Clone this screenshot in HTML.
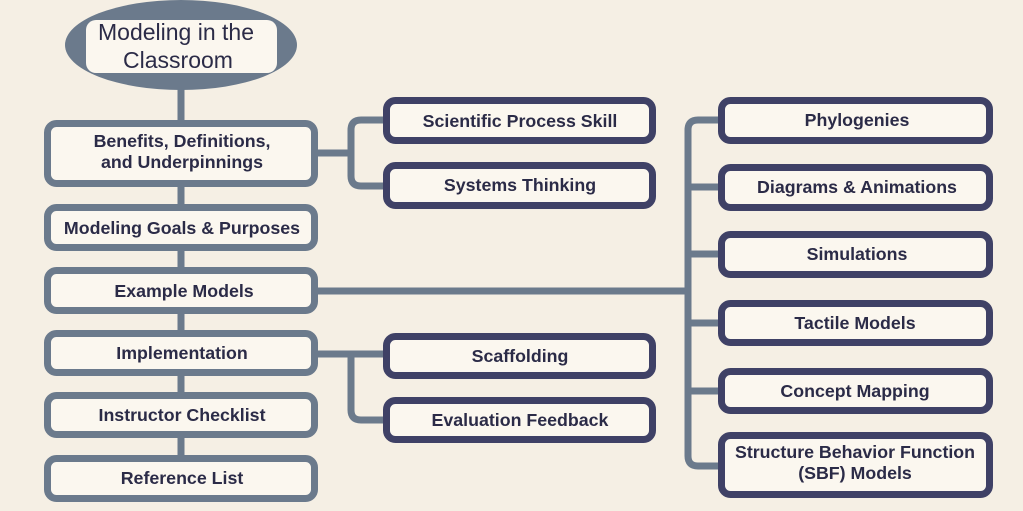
<!DOCTYPE html>
<html><head><meta charset="utf-8"><style>
html,body{margin:0;padding:0;background:#f5efe4;}
svg{display:block;}
text{font-family:"Liberation Sans",Arial,sans-serif;font-weight:bold;fill:#2b2b47;font-size:17.8px;text-anchor:middle;}
.s{fill:#fbf7ef;stroke:#6b7a8c;stroke-width:7;}
.n{fill:#fbf7ef;stroke:#3f4166;stroke-width:7;}
.l{stroke:#6b7a8c;stroke-width:7;fill:none;stroke-linejoin:round;}
</style></head><body>
<svg width="1023" height="511" viewBox="0 0 1023 511">
<rect width="1023" height="511" fill="#f5efe4"/>
<line class="l" x1="181" y1="80" x2="181" y2="125"/>
<line class="l" x1="181" y1="185" x2="181" y2="490"/>
<path class="l" d="M315 153 H351 M384 120 H361 Q351 120 351 130 V176 Q351 186 361 186 H384"/>
<path class="l" d="M315 354 H384 M351 354 V410 Q351 420 361 420 H384"/>
<path class="l" d="M315 291 H688 M720 120 H698 Q688 120 688 130 V456 Q688 466 698 466 H720 M688 187 H720 M688 254 H720 M688 323 H720 M688 391 H720"/>
<ellipse cx="181" cy="45" rx="116" ry="45" fill="#6b7a8c"/>
<rect x="86" y="20" width="191" height="53" rx="10" fill="#fbf7ef"/>
<text x="176" y="40" style="font-weight:normal;font-size:23px">Modeling in the</text>
<text x="178" y="68" style="font-weight:normal;font-size:23px">Classroom</text>
<rect class="s" x="47.5" y="123.5" width="267" height="60" rx="9"/>
<text x="182" y="147">Benefits, Definitions,</text>
<text x="182" y="168">and Underpinnings</text>
<rect class="s" x="47.5" y="207.5" width="267" height="40" rx="9"/>
<text x="182" y="234">Modeling Goals &amp; Purposes</text>
<rect class="s" x="47.5" y="270.5" width="267" height="40" rx="9"/>
<text x="184" y="297">Example Models</text>
<rect class="s" x="47.5" y="333.5" width="267" height="39" rx="9"/>
<text x="182" y="359">Implementation</text>
<rect class="s" x="47.5" y="395.5" width="267" height="39" rx="9"/>
<text x="182" y="421">Instructor Checklist</text>
<rect class="s" x="47.5" y="458.5" width="267" height="40" rx="9"/>
<text x="182" y="484">Reference List</text>
<rect class="n" x="386.5" y="100.5" width="266" height="40" rx="9"/>
<text x="520" y="127">Scientific Process Skill</text>
<rect class="n" x="386.5" y="165.5" width="266" height="40" rx="9"/>
<text x="520" y="191">Systems Thinking</text>
<rect class="n" x="386.5" y="336.5" width="266" height="39" rx="9"/>
<text x="520" y="362">Scaffolding</text>
<rect class="n" x="386.5" y="400.5" width="266" height="39" rx="9"/>
<text x="520" y="426">Evaluation Feedback</text>
<rect class="n" x="721.5" y="100.5" width="268" height="40" rx="9"/>
<text x="857" y="126">Phylogenies</text>
<rect class="n" x="721.5" y="167.5" width="268" height="40" rx="9"/>
<text x="857" y="193">Diagrams &amp; Animations</text>
<rect class="n" x="721.5" y="234.5" width="268" height="40" rx="9"/>
<text x="857" y="260">Simulations</text>
<rect class="n" x="721.5" y="303.5" width="268" height="39" rx="9"/>
<text x="855" y="329">Tactile Models</text>
<rect class="n" x="721.5" y="371.5" width="268" height="39" rx="9"/>
<text x="855" y="397">Concept Mapping</text>
<rect class="n" x="721.5" y="435.5" width="268" height="59" rx="9"/>
<text x="855" y="458">Structure Behavior Function</text>
<text x="855" y="479">(SBF) Models</text>
</svg>
</body></html>
